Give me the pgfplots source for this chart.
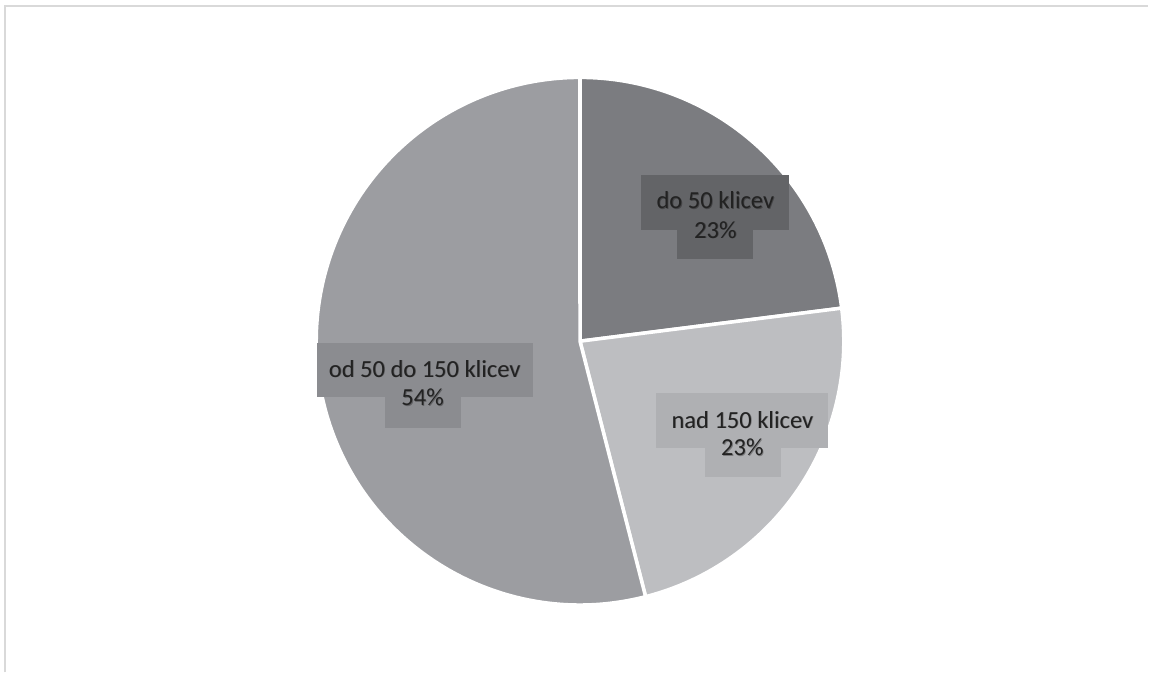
\documentclass[border=0pt]{standalone}
\usepackage{pgfplots}
\pgfplotsset{compat=1.18}
\usepackage{pgfplotstable}
\usepackage{fontspec}
\setmainfont{Carlito}
\definecolor{sA}{HTML}{7B7C80}
\definecolor{sB}{HTML}{BDBEC1}
\definecolor{sC}{HTML}{9C9DA1}
\definecolor{bA}{HTML}{636467}
\definecolor{bB}{HTML}{AFB0B3}
\definecolor{bC}{HTML}{8B8C90}
\definecolor{txt}{HTML}{222222}
\definecolor{frame}{HTML}{D9D9D9}
\pgfplotstableread[col sep=comma]{
label,value
do 50 klicev,23
nad 150 klicev,23
od 50 do 150 klicev,54
}\piedata
\begin{document}
\begin{tikzpicture}
\pgfplotstablegetelem{0}{value}\of\piedata \pgfmathsetmacro\va{\pgfplotsretval}
\pgfplotstablegetelem{1}{value}\of\piedata \pgfmathsetmacro\vb{\pgfplotsretval}
\pgfplotstablegetelem{2}{value}\of\piedata \pgfmathsetmacro\vc{\pgfplotsretval}
\pgfmathsetmacro\tot{\va+\vb+\vc}
\pgfmathsetmacro\aA{90-\va/\tot*360}
\pgfmathsetmacro\aB{\aA-\vb/\tot*360}
\pgfmathsetmacro\aC{\aB-\vc/\tot*360}
\pgfkeys{/pgf/number format/.cd, assume math mode=true, precision=0}
\tikzset{
  lbl/.style={text=txt, inner sep=0pt, font=\fontsize{24.5bp}{29bp}\selectfont},
  shd/.style={text=black, text opacity=0.3, inner sep=0pt, font=\fontsize{24.5bp}{29bp}\selectfont, xshift=0.8bp, yshift=-0.8bp},
}
\begin{axis}[
  x=1bp, y=1bp, xmin=0, xmax=1149, ymin=0, ymax=673,
  scale only axis, hide axis, clip=false,
]
\fill[white] (axis cs:0,0) rectangle (axis cs:1149,673);
\draw[frame, line width=2bp] (axis cs:5,0) -- (axis cs:5,667) -- (axis cs:1149,667);
% slices
\filldraw[fill=sA, draw=white, line width=3.5bp, line join=round]
  (axis cs:580.5,331.5) -- ++(90:264bp) arc[start angle=90, end angle=\aA, radius=264bp] -- cycle;
\filldraw[fill=sB, draw=white, line width=3.5bp, line join=round]
  (axis cs:580.5,331.5) -- ++(\aA:264bp) arc[start angle=\aA, end angle=\aB, radius=264bp] -- cycle;
\filldraw[fill=sC, draw=white, line width=3.5bp, line join=round]
  (axis cs:580.5,331.5) -- ++(\aB:264bp) arc[start angle=\aB, end angle=\aC, radius=264bp] -- cycle;
% label boxes
\fill[bA] (axis cs:642,498) rectangle (axis cs:790,443);
\fill[bA] (axis cs:678,443) rectangle (axis cs:754,414);
\fill[bB] (axis cs:657,280) rectangle (axis cs:829,225);
\fill[bB] (axis cs:706,225) rectangle (axis cs:782,196);
\fill[bC] (axis cs:317,330) rectangle (axis cs:533,276);
\fill[bC] (axis cs:385,276) rectangle (axis cs:461,245);
% label shadows
\node[shd] at (axis cs:716,473) {do 50 klicev};
\node[shd] at (axis cs:716,443) {\pgfmathprintnumber{\va}\%};
\node[shd] at (axis cs:743,253) {nad 150 klicev};
\node[shd] at (axis cs:743,225) {\pgfmathprintnumber{\vb}\%};
\node[shd] at (axis cs:425,304) {od 50 do 150 klicev};
\node[shd] at (axis cs:423,275) {\pgfmathprintnumber{\vc}\%};
% label texts
\node[lbl] at (axis cs:716,473) {do 50 klicev};
\node[lbl] at (axis cs:716,443) {\pgfmathprintnumber{\va}\%};
\node[lbl] at (axis cs:743,253) {nad 150 klicev};
\node[lbl] at (axis cs:743,225) {\pgfmathprintnumber{\vb}\%};
\node[lbl] at (axis cs:425,304) {od 50 do 150 klicev};
\node[lbl] at (axis cs:423,275) {\pgfmathprintnumber{\vc}\%};
\end{axis}
\end{tikzpicture}
\end{document}
